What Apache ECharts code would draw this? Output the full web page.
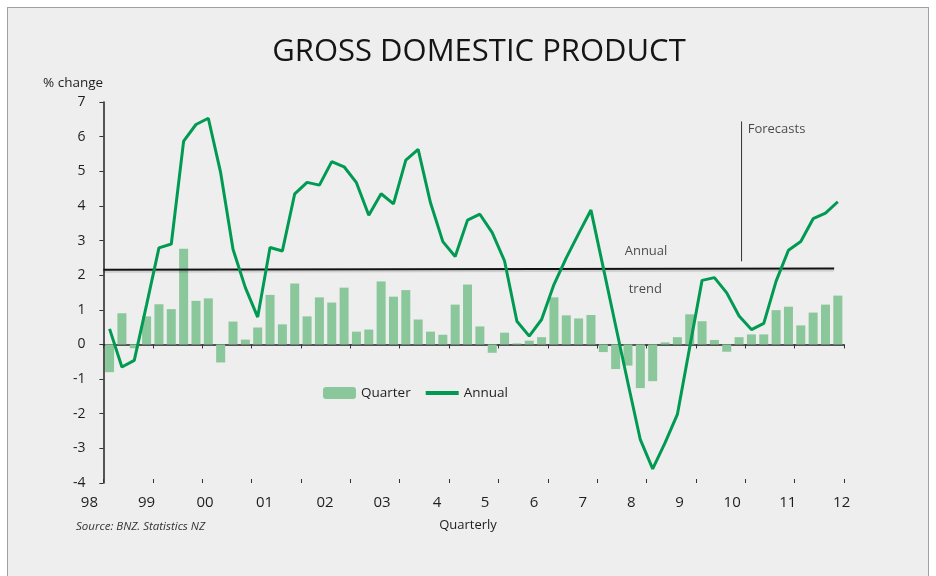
<!DOCTYPE html>
<html>
<head>
<meta charset="utf-8">
<script src="https://cdn.jsdelivr.net/npm/echarts@6/dist/echarts.min.js"></script>
<style>
  html, body { margin: 0; padding: 0; background: #ffffff; }
  #box { position: absolute; left: 7px; top: 7px; width: 920px; height: 600px; border: 1px solid #a0a0a0; background: #eeeeee; }
  #chart { position: absolute; left: 0; top: 0; width: 936px; height: 576px; }
</style>
</head>
<body>
<div id="box"></div>
<div id="chart"></div>
<script>
// Quarterly % change (60 quarters, 1998 Q1 .. 2012 Q4)
const quarterValues = [
  -0.80, 0.90, -0.11, 0.81, 1.16, 1.02, 2.76, 1.26, 1.33, -0.52,
  0.66, 0.14, 0.49, 1.43, 0.58, 1.76, 0.81, 1.36, 1.21, 1.64,
  0.37, 0.43, 1.82, 1.38, 1.57, 0.72, 0.37, 0.28, 1.15, 1.73,
  0.52, -0.24, 0.34, 0.03, 0.11, 0.21, 1.36, 0.84, 0.75, 0.85,
  -0.22, -0.71, -0.61, -1.26, -1.06, 0.06, 0.21, 0.87, 0.67, 0.13,
  -0.21, 0.21, 0.29, 0.29, 0.99, 1.09, 0.55, 0.92, 1.15, 1.41
];
// Annual % change
const annualValues = [
  0.45, -0.65, -0.46, 1.15, 2.79, 2.90, 5.87, 6.35, 6.53, 4.96,
  2.75, 1.64, 0.79, 2.80, 2.70, 4.35, 4.68, 4.60, 5.28, 5.13,
  4.67, 3.73, 4.35, 4.06, 5.32, 5.63, 4.09, 2.97, 2.54, 3.59,
  3.76, 3.23, 2.41, 0.67, 0.24, 0.72, 1.73, 2.50, 3.20, 3.88,
  2.21, 0.54, -1.12, -2.75, -3.59, -2.84, -2.02, -0.08, 1.85, 1.93,
  1.49, 0.82, 0.43, 0.61, 1.83, 2.72, 2.97, 3.63, 3.79, 4.12
];
// Annual trend line (start, end)
const trendValues = [2.16, 2.19];
// X tick labels (years)
const yearLabels = ['98', '99', '00', '01', '02', '03', '4', '5', '6', '7', '8', '9', '10', '11', '12'];
// Y axis
const yMin = -4, yMax = 7, yStep = 1;

// ---- layout helpers (positions in quarter units, not data) ----
const labelPos = [0, 3.50, 8.24, 13.05, 17.96, 22.58, 27.03, 30.92, 34.89, 38.83, 42.76, 46.68, 50.94, 55.44, 59.81];
const forecastX = 51.7;
const trendEndX = 59.2;

const barData = quarterValues.map((v, i) => [i + 0.5, v]);
const lineData = annualValues.map((v, i) => [i + 0.5, v]);

const FONT = '"Open Sans", "Noto Sans", sans-serif';
const TXT = '#1e1e1e';

const chart = echarts.init(document.getElementById('chart'), null, { renderer: 'canvas' });
chart.setOption({
  backgroundColor: 'transparent',
  animation: false,
  textStyle: { fontFamily: FONT },
  title: [
    { text: 'GROSS DOMESTIC PRODUCT', left: 474, top: 32, textAlign: 'center',
      textStyle: { fontFamily: FONT, fontSize: 31, fontWeight: 'normal', color: '#151515' } },
    { text: '% change', left: 38, top: 71,
      textStyle: { fontFamily: FONT, fontSize: 13.5, fontWeight: 'normal', color: TXT } },
    { text: 'Source: BNZ. Statistics NZ', left: 71, top: 516,
      textStyle: { fontFamily: FONT, fontSize: 11.5, fontStyle: 'italic', fontWeight: 'normal', color: '#333' } },
    { text: 'Quarterly', left: 463, top: 514, textAlign: 'center',
      textStyle: { fontFamily: FONT, fontSize: 13, fontWeight: 'normal', color: TXT } }
  ],
  legend: {
    left: 323, top: 386, padding: 0, itemWidth: 33, itemHeight: 12, itemGap: 13,
    data: [
      { name: 'Quarter' },
      { name: 'Annual', itemStyle: { opacity: 0 }, lineStyle: { width: 4 } }
    ],
    textStyle: { fontFamily: FONT, fontSize: 13.5, color: TXT }
  },
  grid: { left: 103.4, right: 92, top: 102, bottom: 93, containLabel: false },
  xAxis: [
    { type: 'value', min: 0, max: 60, interval: 4, position: 'bottom',
      axisLine: { show: true, onZero: true, lineStyle: { color: '#222', width: 1.5 } },
      axisTick: { show: true, length: 4, lineStyle: { color: '#333', width: 1 } },
      axisLabel: { show: false }, splitLine: { show: false } },
    { type: 'value', min: 0, max: 60, interval: 4, position: 'bottom',
      axisLine: { show: false, onZero: true },
      axisTick: { show: true, inside: true, length: 4, lineStyle: { color: '#333', width: 1 } },
      axisLabel: { show: false }, splitLine: { show: false } },
    { type: 'value', min: 0, max: 60, position: 'bottom',
      axisLine: { show: false, onZero: false },
      axisTick: { show: false },
      splitLine: { show: false },
      axisLabel: {
        show: true, customValues: labelPos, margin: 12,
        fontFamily: FONT, fontSize: 15, color: TXT,
        showMinLabel: true, showMaxLabel: true, hideOverlap: false,
        formatter: function (val) {
          let best = 0, bd = 1e9;
          labelPos.forEach((p, i) => { const d = Math.abs(p - val); if (d < bd) { bd = d; best = i; } });
          return best === 0 ? '{s|' + yearLabels[0] + '}' : yearLabels[best];
        },
        rich: { s: { fontFamily: FONT, fontSize: 15, color: TXT, padding: [0, 28, 0, 0] } }
      } }
  ],
  yAxis: {
    type: 'value', min: yMin, max: yMax, interval: yStep,
    axisLine: { show: true, onZero: false, lineStyle: { color: '#222', width: 1.5 } },
    axisTick: { show: true, length: 4, lineStyle: { color: '#333' } },
    axisLabel: { margin: 18, fontFamily: FONT, fontSize: 14, color: TXT },
    splitLine: { show: false }
  },
  series: [
    { name: 'Quarter', type: 'bar', xAxisIndex: 0, data: barData, barWidth: 9,
      itemStyle: { color: '#8ac79b' }, z: 2 },
    { name: 'Trend', type: 'line', xAxisIndex: 0,
      data: [[0, trendValues[0]], [trendEndX, trendValues[1]]],
      symbol: 'none', silent: true, z: 3,
      lineStyle: { color: '#111', width: 2, shadowColor: 'rgba(0,0,0,0.15)', shadowOffsetY: 2, shadowBlur: 1 } },
    { name: 'Forecast', type: 'line', xAxisIndex: 0,
      data: [[forecastX, 2.40], [forecastX, 6.44]],
      symbol: 'none', silent: true, z: 3,
      lineStyle: { color: '#333', width: 1 } },
    { name: 'Annual', type: 'line', xAxisIndex: 0, data: lineData,
      symbol: 'none', showSymbol: false, z: 4,
      itemStyle: { color: '#009a52' },
      lineStyle: { color: '#009a52', width: 3 } },
    { name: 'Notes', type: 'scatter', xAxisIndex: 0, symbolSize: 0, silent: true, z: 5,
      label: { show: true, formatter: '{b}', fontFamily: FONT, fontSize: 13, color: TXT },
      data: [
        { name: 'Annual', value: [43.96, 2.68], label: { position: 'inside' } },
        { name: 'trend', value: [43.9, 1.58], label: { position: 'inside' } },
        { name: 'Forecasts', value: [52.2, 6.22], label: { position: 'right', distance: 0 } }
      ] }
  ]
});
</script>
</body>
</html>
